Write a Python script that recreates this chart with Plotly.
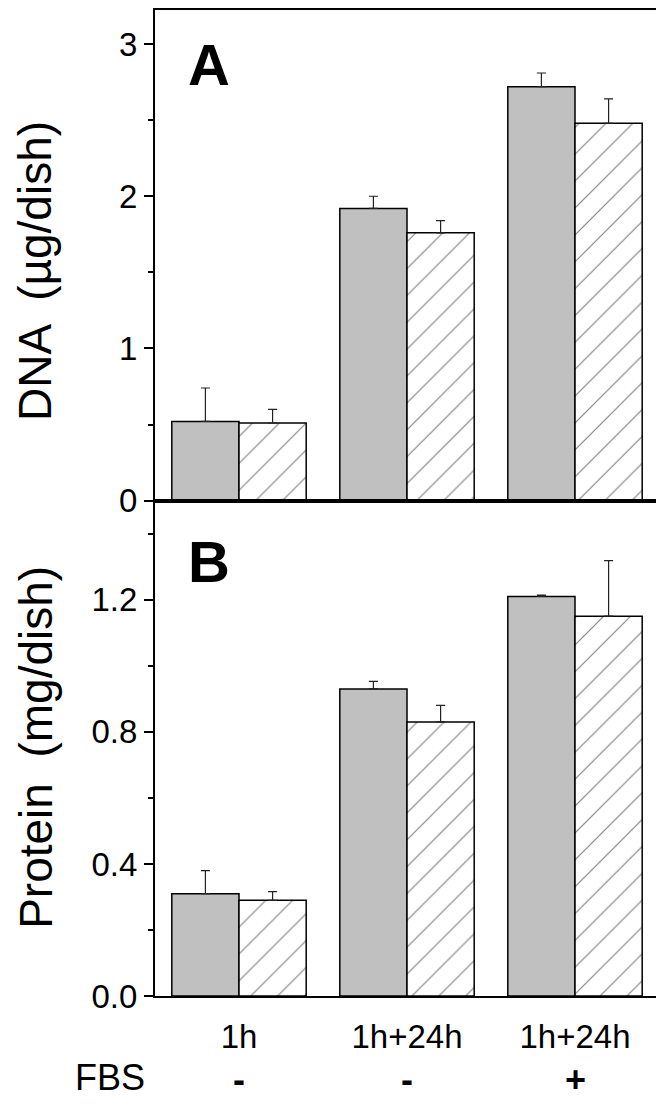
import plotly.graph_objects as go
from plotly.subplots import make_subplots

# categories under the bottom panel
groups = ['1h', '1h+24h', '1h+24h']
fbs = ['-', '-', '+']
xpos = [0, 1, 2]

# panel A: DNA (ug/dish)
dna_solid = [0.52, 1.92, 2.72]
dna_solid_err = [0.22, 0.08, 0.09]
dna_hatch = [0.51, 1.76, 2.48]
dna_hatch_err = [0.09, 0.08, 0.16]

# panel B: protein (mg/dish)
prot_solid = [0.31, 0.93, 1.21]
prot_solid_err = [0.07, 0.023, 0.004]
prot_hatch = [0.29, 0.83, 1.15]
prot_hatch_err = [0.026, 0.05, 0.168]

FONT = 'Arial, Liberation Sans, sans-serif'
# the page body has an 8px margin, so every screen position is
# shifted by 8px relative to the figure
OFF = 8
W, H = 664, 1116


def px(sx):
    return (sx - OFF) / W


def py(sy):
    return 1 - (sy - OFF) / H


def err(vals):
    return dict(type='data', symmetric=False, array=vals,
                arrayminus=[0] * len(vals), color='#222',
                thickness=1.2, width=4.5)


def solid_bar(y, e):
    return go.Bar(x=xpos, y=y, error_y=err(e),
                  marker=dict(color='#c0c0c0',
                              line=dict(color='black', width=1.5)),
                  showlegend=False)


def hatch_bar(y, e):
    return go.Bar(x=xpos, y=y, error_y=err(e),
                  marker=dict(color='white',
                              line=dict(color='black', width=1.5),
                              pattern=dict(shape='/', fgcolor='black',
                                           bgcolor='white', size=19,
                                           solidity=0.06)),
                  showlegend=False)


fig = make_subplots(rows=2, cols=1)
fig.add_trace(solid_bar(dna_solid, dna_solid_err), row=1, col=1)
fig.add_trace(hatch_bar(dna_hatch, dna_hatch_err), row=1, col=1)
fig.add_trace(solid_bar(prot_solid, prot_solid_err), row=2, col=1)
fig.add_trace(hatch_bar(prot_hatch, prot_hatch_err), row=2, col=1)

axis_common = dict(showline=True, linecolor='black', linewidth=2,
                   mirror=True, showgrid=False, zeroline=False)

fig.update_layout(
    width=W, height=H,
    margin=dict(l=0, r=0, t=0, b=0),
    paper_bgcolor='white', plot_bgcolor='white',
    barmode='group', bargap=0.2, bargroupgap=0,
    font=dict(family=FONT, size=33, color='black'),
    xaxis=dict(domain=[px(155), px(659)], range=[-0.5, 2.5],
               showticklabels=False, ticks='', **axis_common),
    xaxis2=dict(domain=[px(155), px(659)], range=[-0.5, 2.5],
                tickvals=xpos, ticktext=groups, ticks='',
                ticklabelstandoff=10, **axis_common),
    yaxis=dict(domain=[py(508), py(8)], range=[0, 3.25 - 4 / 155],
               tickvals=[0, 1, 2, 3], ticks='outside', ticklen=9,
               tickwidth=2, tickcolor='black',
               minor=dict(tickvals=[0.5, 1.5, 2.5], ticks='outside',
                          ticklen=5, tickwidth=2, tickcolor='black'),
               **axis_common),
    yaxis2=dict(domain=[py(1013), py(508)], range=[0, 1.5],
                tickvals=[0, 0.4, 0.8, 1.2], tickformat='.1f',
                ticks='outside', ticklen=9, tickwidth=2,
                tickcolor='black',
                minor=dict(tickvals=[0.2, 0.6, 1.0, 1.4],
                           ticks='outside', ticklen=5, tickwidth=2,
                           tickcolor='black'),
                **axis_common),
)

centered = dict(xref='paper', yref='paper', showarrow=False,
                xanchor='center', yanchor='middle')

# panel letters
fig.add_annotation(text='<b>A</b>', x=px(209), y=py(64),
                   font=dict(size=58), **centered)
fig.add_annotation(text='<b>B</b>', x=px(209), y=py(570),
                   font=dict(size=58), **centered)

# axis titles
fig.add_annotation(text='DNA  (µg/dish)', x=px(35), y=py(274),
                   textangle=-90, font=dict(size=46), **centered)
fig.add_annotation(text='Protein  (mg/dish)', x=px(36), y=py(760),
                   textangle=-90, font=dict(size=46), **centered)

# FBS row
fig.add_annotation(text='FBS', x=px(110), y=py(1096),
                   font=dict(size=36), **centered)
for i, s in enumerate(fbs):
    fig.add_annotation(text='<b>' + s + '</b>', x=xpos[i], xref='x2',
                       y=py(1098), yref='paper', showarrow=False,
                       xanchor='center', yanchor='middle',
                       font=dict(size=36))

fig.write_html('out.html')
